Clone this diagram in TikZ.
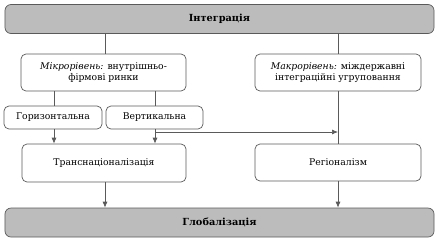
\documentclass[tikz,border=0pt]{standalone}
\usepackage{fontspec}
\setmainfont{DejaVu Serif}
\usetikzlibrary{arrows.meta}
\definecolor{boxgray}{RGB}{188,188,188}
\definecolor{linegray}{RGB}{90,90,90}
\tikzset{
  rbox/.style={draw=linegray, line width=0.7pt, rounded corners=5bp, fill=white, font=\fontsize{9.3}{11.5}\selectfont, align=center, inner sep=0pt},
  gbox/.style={rbox, fill=boxgray, rounded corners=6bp, font=\fontsize{9.8}{11.5}\selectfont\bfseries},
  conn/.style={draw=linegray, line width=0.7pt},
  arr/.style={conn, -{Latex[length=6bp,width=5bp]}}
}
\begin{document}
\begin{tikzpicture}[x=1bp,y=-1bp]
\useasboundingbox (0,0) rectangle (439,240);
\node[gbox, minimum width=429bp, minimum height=29bp] (integ) at (219.5,19) {Інтеграція};
\node[rbox, minimum width=165bp, minimum height=37bp] (micro) at (103.5,72.5) {\textit{Мікрорівень:} внутрішньо-\\фірмові ринки};
\node[rbox, minimum width=166bp, minimum height=37bp] (macro) at (338,72.5) {\textit{Макрорівень:} міждержавні\\інтеграційні угруповання};
\node[rbox, minimum width=98bp, minimum height=23bp] (hor) at (53,117.5) {Горизонтальна};
\node[rbox, minimum width=97bp, minimum height=23bp] (ver) at (154.5,117.5) {Вертикальна};
\node[rbox, minimum width=164bp, minimum height=38bp] (trans) at (104,163) {Транснаціоналізація};
\node[rbox, minimum width=166bp, minimum height=37bp] (reg) at (338,162.5) {Регіоналізм};
\node[gbox, minimum width=429bp, minimum height=29bp] (glob) at (219.5,222.5) {Глобалізація};
\coordinate (tv) at (105,0);
\coordinate (hx) at (54,0);
\coordinate (vx) at (155,0);
\coordinate (jn) at (155,132);
\coordinate (mj) at (338,132);
\draw[conn] (integ.south -| tv) -- (micro.north -| tv);
\draw[conn] (integ.south -| macro) -- (macro.north);
\draw[conn] (micro.south -| hx) -- (hor.north -| hx);
\draw[conn] (micro.south -| vx) -- (ver.north -| vx);
\draw[arr] (hor.south -| hx) -- (trans.north -| hx);
\draw[arr] (ver.south -| vx) -- (trans.north -| vx);
\draw[arr] (jn) -- (mj);
\draw[conn] (macro.south) -- (reg.north);
\draw[arr] (trans.south -| tv) -- (glob.north -| tv);
\draw[arr] (reg.south) -- (glob.north -| reg);
\end{tikzpicture}
\end{document}
